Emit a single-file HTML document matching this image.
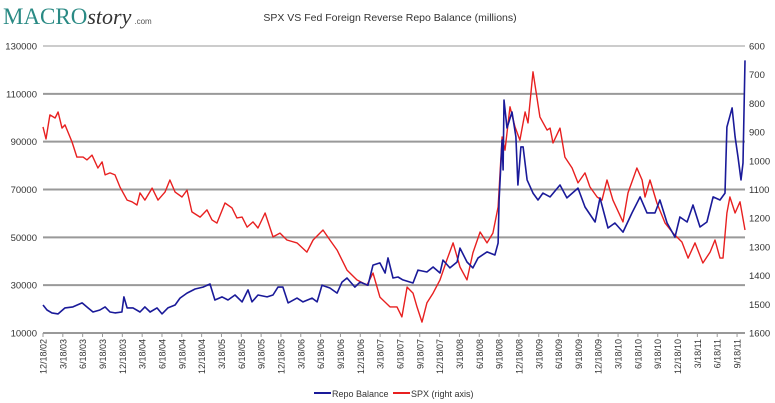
<!DOCTYPE html>
<html><head><meta charset="utf-8"><style>
body{margin:0;background:#fff;width:775px;height:403px;overflow:hidden;font-family:"Liberation Sans",Verdana,sans-serif}
svg{display:block}
</style></head><body>
<svg id="chart" width="775" height="403" xmlns="http://www.w3.org/2000/svg">
<g>
<text x="3" y="24" font-family="Liberation Serif,serif" font-size="23" fill="#2a8a84">MACRO<tspan font-style="italic" fill="#333" font-size="22">story</tspan><tspan font-size="8" fill="#555" font-family="Liberation Sans,sans-serif" dx="3">.com</tspan></text>
</g>
<text x="390" y="21" text-anchor="middle" font-size="10.5" fill="#333">SPX VS Fed Foreign Reverse Repo Balance (millions)</text>
<g id="grid"></g><g id="axes"></g><g id="series"></g>
<g>
<line x1="314" y1="393" x2="331" y2="393" stroke="#1a1a99" stroke-width="2"/>
<text x="332" y="397" font-size="9" fill="#333">Repo Balance</text>
<line x1="393" y1="393" x2="410" y2="393" stroke="#e82020" stroke-width="2"/>
<text x="411" y="397" font-size="9" fill="#333">SPX (right axis)</text>
</g>
</svg>
<script>
const leftTicks=[130000,110000,90000,70000,50000,30000,10000];
const rightTicks=[600,700,800,900,1000,1100,1200,1300,1400,1500,1600];
const xLabels=["12/18/02","3/18/03","6/18/03","9/18/03","12/18/03","3/18/04","6/18/04","9/18/04","12/18/04","3/18/05","6/18/05","9/18/05","12/18/05","3/18/06","6/18/06","9/18/06","12/18/06","3/18/07","6/18/07","9/18/07","12/18/07","3/18/08","6/18/08","9/18/08","12/18/08","3/18/09","6/18/09","9/18/09","12/18/09","3/18/10","6/18/10","9/18/10","12/18/10","3/18/11","6/18/11","9/18/11"];
const spxQ=[0,0.15,0.35,0.61,0.76,0.96,1.11,1.46,1.71,2.02,2.22,2.47,2.77,2.98,3.13,3.38,3.63,3.88,4.24,4.49,4.74,4.89,5.14,5.5,5.8,6.15,6.4,6.66,7.01,7.26,7.51,7.92,8.27,8.52,8.77,9.18,9.53,9.78,10.04,10.29,10.59,10.84,11.2,11.6,11.95,12.3,12.81,13.31,13.62,14.12,14.47,14.83,15.33,15.83,16.34,16.64,16.99,17.5,17.85,18.1,18.36,18.66,18.86,19.11,19.36,19.67,20.02,20.37,20.68,21.03,21.38,21.68,22.04,22.39,22.69,22.95,23.15,23.3,23.55,23.8,24.05,24.31,24.46,24.71,25.06,25.42,25.57,25.72,26.07,26.32,26.68,26.98,27.33,27.58,27.94,28.19,28.44,28.74,29.25,29.5,29.95,30.21,30.36,30.61,30.96,31.37,31.77,32.22,32.53,32.88,33.28,33.64,33.89,34.14,34.29,34.49,34.64,34.9,35.15,35.4];
const spxVals=[882,924,840,851,830,886,875,934,987,987,997,980,1025,1004,1049,1042,1049,1091,1137,1143,1154,1112,1137,1095,1137,1109,1067,1109,1126,1102,1178,1196,1171,1206,1217,1147,1164,1199,1196,1231,1213,1234,1182,1265,1252,1276,1286,1318,1276,1241,1276,1311,1381,1415,1433,1391,1475,1509,1509,1544,1440,1461,1509,1562,1495,1461,1415,1345,1286,1370,1415,1321,1248,1286,1252,1161,917,963,812,882,928,830,868,690,847,893,886,938,886,987,1025,1077,1042,1091,1126,1137,1067,1137,1213,1112,1025,1067,1126,1067,1147,1217,1252,1283,1339,1286,1356,1318,1276,1339,1339,1182,1126,1182,1143,1241];
const repoQ=[0,0.2,0.45,0.76,1.11,1.51,1.97,2.27,2.52,2.87,3.13,3.38,3.63,3.98,4.08,4.24,4.54,4.89,5.14,5.4,5.75,6,6.3,6.66,6.91,7.26,7.67,8.07,8.42,8.67,9.03,9.33,9.68,10.04,10.34,10.54,10.84,11.3,11.6,11.85,12.1,12.36,12.81,13.11,13.57,13.82,14.07,14.47,14.83,15.08,15.33,15.73,15.99,16.39,16.64,16.99,17.25,17.4,17.65,17.9,18.15,18.66,18.91,19.36,19.67,20.02,20.17,20.52,20.88,21.03,21.38,21.68,21.94,22.39,22.79,22.95,23,23.15,23.2,23.25,23.4,23.65,23.85,23.95,24.1,24.21,24.41,24.71,24.96,25.21,25.57,26.07,26.42,26.98,27.33,27.84,28.09,28.49,28.84,29.25,29.7,30.11,30.46,30.86,31.11,31.47,31.87,32.12,32.48,32.78,33.13,33.48,33.79,34.14,34.39,34.49,34.75,34.9,35.05,35.2,35.3,35.4];
const repoVals=[21700,19600,18400,18000,20500,20900,22600,20500,18800,19600,20900,18800,18400,18800,25100,20500,20500,18800,20900,18800,20500,18000,20500,21700,24600,26700,28400,29200,30500,23800,25100,23800,25900,23000,28000,23000,25900,25100,25900,29200,29200,22600,24600,23000,24600,23000,30000,28800,26700,31300,33000,29200,31300,30000,38400,39300,35100,41400,33000,33400,32200,30900,36300,35500,37600,35100,40500,37200,39700,45500,39700,37200,41400,43900,42600,47600,65600,90700,78200,107400,95700,102400,92000,71900,87800,87800,74000,68500,65600,68500,66900,71900,66500,70600,62700,56400,66500,53900,56000,52200,60200,66900,60200,60200,65600,56000,50100,58500,56400,63500,54300,56400,66900,65600,68500,96100,104100,92000,83600,74000,81100,124000];
const NS="http://www.w3.org/2000/svg";
const X0=43,QW=19.83,YT=46,YB=333;
const xq=q=>X0+q*QW;
const yL=v=>YT+(130000-v)/120000*(YB-YT);
const yR=s=>YT+(s-600)/1000*(YB-YT);
function mk(tag,attrs,parent){const e=document.createElementNS(NS,tag);for(const k in attrs)e.setAttribute(k,attrs[k]);parent.appendChild(e);return e;}
const grid=document.getElementById('grid'),axes=document.getElementById('axes'),ser=document.getElementById('series');
leftTicks.forEach((v,i)=>{
  if(v!==10000){const l=mk('line',{x1:X0,x2:745,y1:yL(v),y2:yL(v),stroke:i==0?'#ccc':'#999','stroke-width':2},grid);
  
  }
  const t=mk('text',{x:37,y:yL(v)+3.5,'text-anchor':'end','font-size':9.5,fill:'#333'},axes);t.textContent=v;
  
  
});
rightTicks.forEach(s=>{
  const t=mk('text',{x:749,y:yR(s)+3.5,'font-size':9.5,fill:'#333'},axes);t.textContent=s;
  
  
});
const ax=mk('line',{x1:X0,x2:745,y1:YB,y2:YB,stroke:'#999','stroke-width':2},axes);


xLabels.forEach((lab,i)=>{
  const x=xq(i);
  mk('line',{x1:x,x2:x,y1:YB,y2:YB+4,stroke:'#999','stroke-width':1},axes);
  const t=mk('text',{x:0,y:0,transform:`translate(${x+3.5},${YB+6}) rotate(-90)`,'text-anchor':'end','font-size':9,fill:'#333'},axes);t.textContent=lab;
  
  
});
const rp=mk('polyline',{points:spxQ.map((q,i)=>xq(q).toFixed(1)+','+yR(spxVals[i]).toFixed(1)).join(' '),fill:'none',stroke:'#e82020','stroke-width':1.4,'stroke-linejoin':'round'},ser);


const bp=mk('polyline',{points:repoQ.map((q,i)=>xq(q).toFixed(1)+','+yL(repoVals[i]).toFixed(1)).join(' '),fill:'none',stroke:'#1a1a99','stroke-width':1.6,'stroke-linejoin':'round'},ser);


</script>
</body></html>
